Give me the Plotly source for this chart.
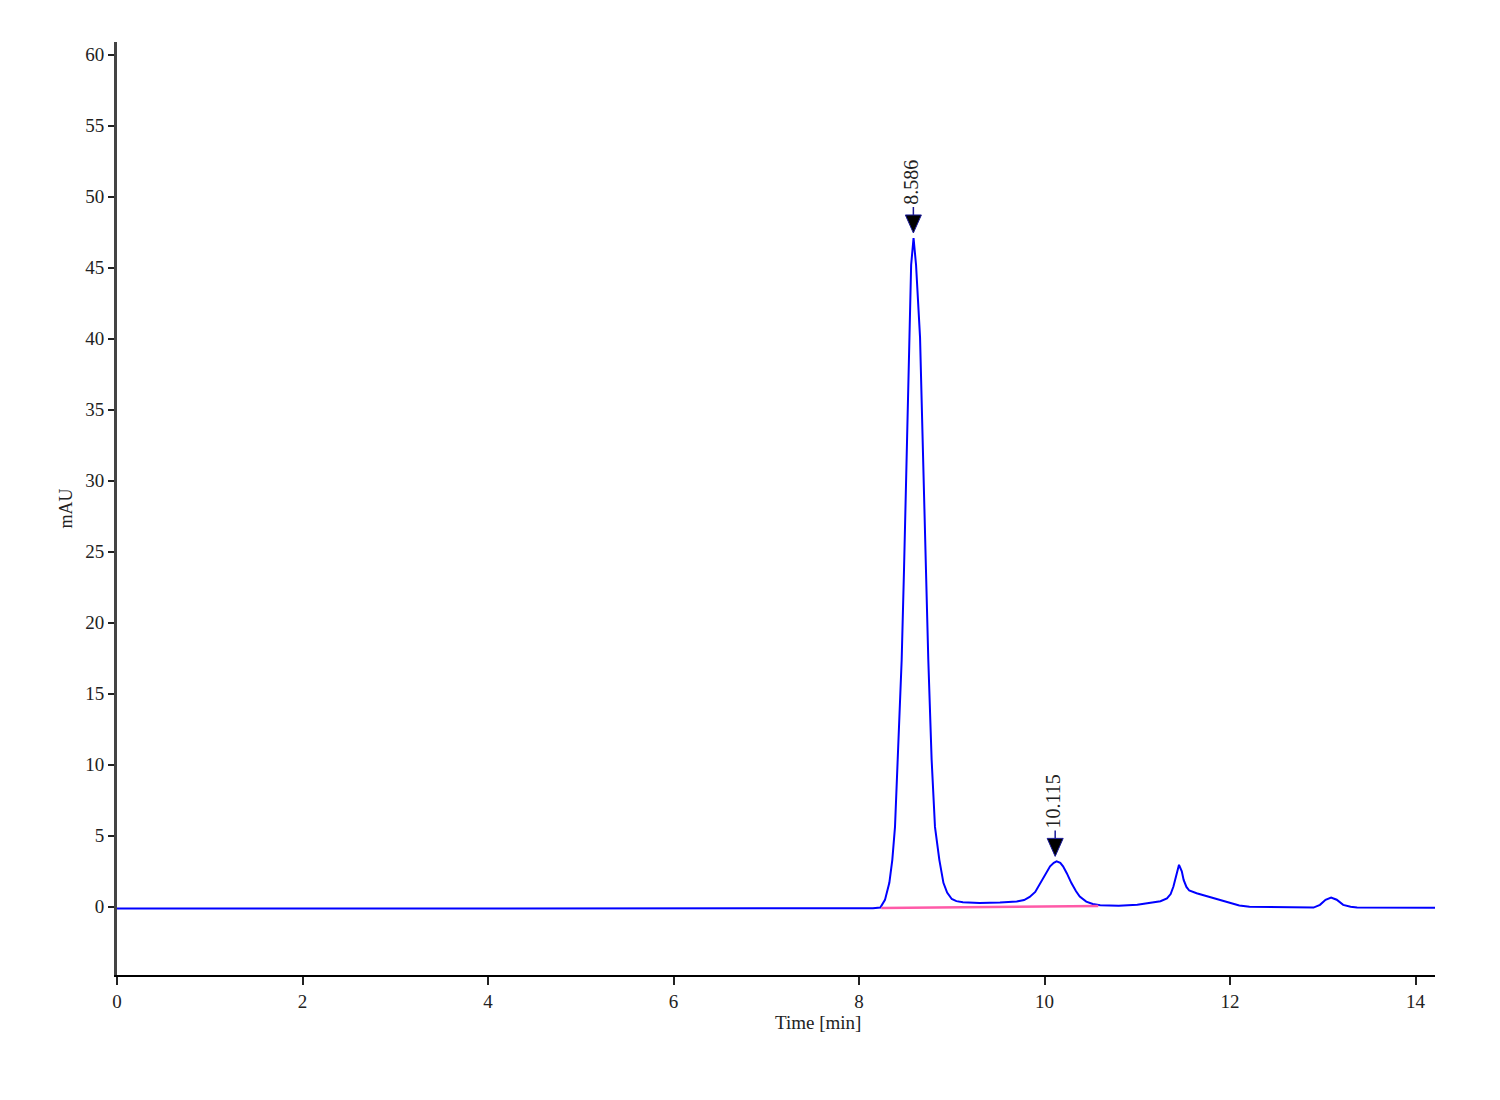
import plotly.graph_objects as go

# Chromatogram trace (time in min, signal in mAU)
time_min = [0, 1, 2, 3, 4, 5, 6, 7, 8, 8.15, 8.23, 8.28, 8.327, 8.359, 8.388, 8.417, 8.46,
            8.485, 8.514, 8.542, 8.562, 8.588, 8.615, 8.658, 8.686, 8.722, 8.747, 8.783,
            8.819, 8.866, 8.91, 8.95, 9.0, 9.05, 9.12, 9.3, 9.52, 9.7, 9.78, 9.84, 9.90,
            9.95, 9.98, 10.02, 10.06, 10.10, 10.13, 10.17, 10.20, 10.24, 10.29, 10.34, 10.38,
            10.45, 10.52, 10.6, 10.8, 11.0, 11.14, 11.25, 11.32, 11.36, 11.39, 11.42, 11.45,
            11.48, 11.50, 11.53, 11.56, 11.64, 11.8, 12.0, 12.1, 12.21, 12.9, 12.97, 13.03,
            13.09, 13.15, 13.22, 13.3, 13.37, 14.21]
signal_mau = [-0.12, -0.12, -0.12, -0.12, -0.12, -0.11, -0.12, -0.12, -0.12, -0.1, -0.05, 0.49,
              1.69, 3.31, 5.63, 10.35, 17.4, 23.7, 32.0, 40.1, 45.2, 47.1, 45.2, 40.1, 32.0,
              23.7, 17.4, 10.35, 5.63, 3.31, 1.69, 1.0, 0.55, 0.4, 0.32, 0.27, 0.3, 0.38, 0.48,
              0.7, 1.05, 1.6, 1.95, 2.4, 2.85, 3.1, 3.2, 3.1, 2.85, 2.37, 1.67, 1.1, 0.72,
              0.37, 0.2, 0.12, 0.08, 0.15, 0.26, 0.4, 0.6, 0.9, 1.43, 2.3, 2.96, 2.5, 1.9,
              1.4, 1.15, 0.96, 0.65, 0.26, 0.1, 0.0, -0.05, 0.14, 0.5, 0.66, 0.5, 0.14, 0.0,
              -0.05, -0.07]

# Integrated peak baseline (pink)
integ_time = [8.24, 10.58]
integ_level = [-0.08, 0.06]

# Labelled peaks
peak_times = [8.586, 10.115]
peak_heights = [47.1, 3.2]
peak_labels = ["8.586", "10.115"]

x_ticks = [0, 2, 4, 6, 8, 10, 12, 14]
y_ticks = list(range(0, 61, 5))

FONT = "Liberation Serif, Times New Roman, serif"

fig = go.Figure()
fig.add_trace(go.Scatter(x=time_min, y=signal_mau, mode="lines",
                         line=dict(color="#0000ff", width=2), showlegend=False))
fig.add_trace(go.Scatter(x=integ_time, y=integ_level, mode="lines",
                         line=dict(color="#ff5aa8", width=2.5), showlegend=False))

shapes = []
annotations = []
for t, h, lab in zip(peak_times, peak_heights, peak_labels):
    shapes.append(dict(type="path", xref="x", yref="y", xsizemode="pixel", ysizemode="pixel",
                       xanchor=t, yanchor=h, path="M -8 23 L 8 23 L 0 5 Z",
                       fillcolor="black", line=dict(color="#1a1a9a", width=1)))
    shapes.append(dict(type="path", xref="x", yref="y", xsizemode="pixel", ysizemode="pixel",
                       xanchor=t, yanchor=h, path="M 0 23 L 0 31",
                       line=dict(color="#1a1a9a", width=1.5)))
    annotations.append(dict(x=t, y=h, xref="x", yref="y", text=lab, showarrow=False,
                            textangle=-90, yanchor="bottom", xanchor="center",
                            yshift=31, xshift=-2,
                            font=dict(family=FONT, size=20, color="#222")))

annotations.append(dict(x=0.532, y=-0.038, xref="paper", yref="paper", text="Time [min]",
                        showarrow=False, yanchor="top", xanchor="center",
                        font=dict(family=FONT, size=19, color="#222")))

fig.update_layout(
    width=1500, height=1100,
    margin=dict(l=109, r=73, t=34, b=133),
    paper_bgcolor="white", plot_bgcolor="white",
    shapes=shapes, annotations=annotations,
    font=dict(family=FONT, size=17, color="#222"),
)
fig.update_xaxes(range=[0, 14.21], tickvals=x_ticks, ticktext=[str(v) for v in x_ticks],
                 showgrid=False, zeroline=False, showline=True, linecolor="black", linewidth=2,
                 ticks="outside", ticklen=8, tickwidth=2, tickcolor="#222",
                 tickfont=dict(family=FONT, size=19, color="#222"))
fig.update_yaxes(range=[-4.8, 60.9], tickvals=y_ticks, ticktext=[str(v) for v in y_ticks],
                 showgrid=False, zeroline=False, showline=True, linecolor="#444", linewidth=3,
                 ticks="outside", ticklen=6, tickwidth=2, tickcolor="#222",
                 tickfont=dict(family=FONT, size=19, color="#222"),
                 title=dict(text="mAU", standoff=8, font=dict(family=FONT, size=18, color="#222")))

fig.write_html("out.html")
